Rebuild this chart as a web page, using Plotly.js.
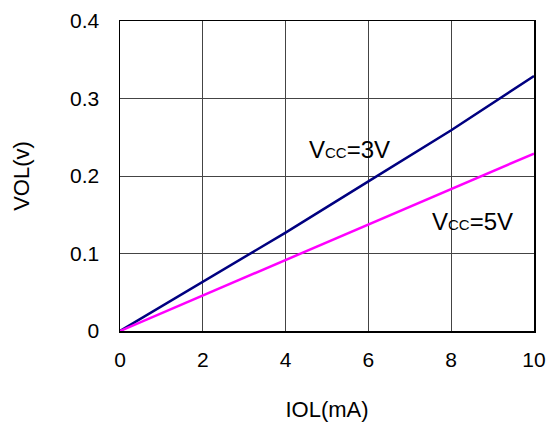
<!DOCTYPE html>
<html><head><meta charset="utf-8">
<script src="https://cdn.plot.ly/plotly-3.0.1.min.js"></script>
<style>body{margin:0;background:#fff}#c{width:550px;height:423px}</style>
</head><body><div id="c"></div>
<script>
const iol = [0, 2, 4, 6, 8, 10];
const vol3V = [0, 0.064, 0.127, 0.193, 0.259, 0.329];
const vol5V = [0, 0.046, 0.092, 0.138, 0.183, 0.229];
const xTicks = [0, 2, 4, 6, 8, 10];
const yTicks = [0, 0.1, 0.2, 0.3, 0.4];
const yTickText = ['0', '0.1', '0.2', '0.3', '0.4'];

const font = 'Liberation Sans, Arial, sans-serif';
const traces = [
  {x: iol, y: vol3V, mode: 'lines', line: {color: '#000080', width: 2.5}, name: 'Vcc=3V'},
  {x: iol, y: vol5V, mode: 'lines', line: {color: '#ff00ff', width: 2.5}, name: 'Vcc=5V'}
];
const layout = {
  width: 550, height: 423,
  margin: {l: 119.5, r: 15.5, t: 20.5, b: 92},
  paper_bgcolor: '#fff', plot_bgcolor: '#fff',
  showlegend: false,
  font: {family: font, color: '#000', size: 21},
  xaxis: {
    range: [0, 10], tickvals: xTicks, ticks: '', showgrid: true, gridcolor: '#444', gridwidth: 1,
    zeroline: false, showline: true, linecolor: '#000', linewidth: 1.5, mirror: true,
    tickfont: {size: 21}, ticklabelstandoff: 9,
    title: {text: 'IOL(mA)', font: {size: 22}, standoff: 32}
  },
  yaxis: {
    range: [0, 0.4], tickvals: yTicks, ticktext: yTickText, ticks: '', showgrid: true, gridcolor: '#444', gridwidth: 1,
    zeroline: false, showline: true, linecolor: '#000', linewidth: 1.5, mirror: true,
    tickfont: {size: 21}, ticklabelstandoff: 15,
    title: {text: 'VOL(v)', font: {size: 22}, standoff: 34}
  },
  annotations: [
    {x: 5.55, y: 0.2345, xref: 'x', yref: 'y', showarrow: false,
     text: 'V<span style="font-size:15px">CC</span>=3V', font: {size: 24, family: font}},
    {x: 8.52, y: 0.1418, xref: 'x', yref: 'y', showarrow: false,
     text: 'V<span style="font-size:15px">CC</span>=5V', font: {size: 24, family: font}}
  ]
};
Plotly.newPlot('c', traces, layout, {displayModeBar: false, staticPlot: true});
</script></body></html>
